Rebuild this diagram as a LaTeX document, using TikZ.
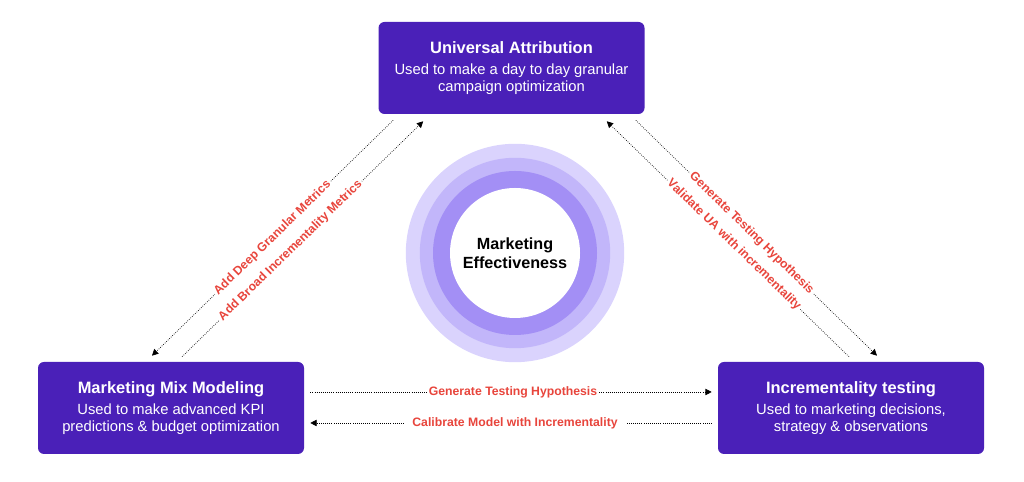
\documentclass[tikz,border=0pt]{standalone}
\usepackage{fontspec}
\setmainfont{Liberation Sans}
\usetikzlibrary{calc,arrows.meta}

\definecolor{boxviolet}{HTML}{4A20B8}
\definecolor{ringa}{HTML}{DAD3FD}
\definecolor{ringb}{HTML}{C2B6FA}
\definecolor{ringc}{HTML}{A38FF5}
\definecolor{labelred}{HTML}{E8453C}

\tikzset{
  method/.style={fill=boxviolet, rounded corners=0.15cm, minimum width=6.65cm, minimum height=2.3cm, text=white, align=center, inner sep=0pt, font=\fontsize{10.5}{12}\selectfont},
  link/.style={densely dotted, line width=0.5pt, -{Triangle[length=4.5pt,width=4.5pt]}},
  linklabel/.style={font=\bfseries\fontsize{8.7}{9}\selectfont, text=labelred, fill=white, inner sep=1.2pt, sloped},
}
\newcommand{\boxtitle}[1]{\textbf{\fontsize{11.7}{13}\selectfont #1}}

\begin{document}
\begin{tikzpicture}
        \useasboundingbox (0, 0) rectangle (25.6, 12.05);

        % the three methods
        \node[method] (ua) at (12.7875, 10.35) {\boxtitle{Universal Attribution}\\[3pt]
            Used to make a day to day granular\\campaign optimization};
        \node[method] (mmm) at (4.275, 1.85) {\boxtitle{Marketing Mix Modeling}\\[3pt]
            Used to make advanced KPI\\predictions \& budget optimization};
        \node[method] (it) at (21.275, 1.85) {\boxtitle{Incrementality testing}\\[3pt]
            Used to marketing decisions,\\strategy \& observations};

        % centre rings
        \fill[ringa] (12.875, 5.725) circle (2.73);
        \fill[ringb] (12.875, 5.725) circle (2.38);
        \fill[ringc] (12.875, 5.725) circle (2.05);
        \fill[white] (12.875, 5.725) circle (1.625);
        \node[align=center, font=\bfseries\fontsize{11.5}{13.5}\selectfont] (effect) at (12.875, 5.725) {Marketing\\Effectiveness};

        % UA <-> MMM
        \draw[link] ($(ua.south west)+(0.375,-0.15)$) -- node[linklabel, pos=0.5] {Add Deep Granular Metrics} ($(mmm.north)+(-0.475,0.15)$);
        \draw[link] ($(mmm.north)+(0.275,0.125)$) -- node[linklabel, pos=0.45] {Add Broad Incrementality Metrics} ($(ua.south west)+(1.125,-0.175)$);

        % UA <-> IT
        \draw[link] ($(ua.south east)+(-0.225,-0.15)$) -- node[linklabel, pos=0.48] {Generate Testing Hypothesis} ($(it.north)+(0.65,0.15)$);
        \draw[link] ($(it.north)+(-0.05,0.125)$) -- node[linklabel, pos=0.475] {Validate UA with incrementality} ($(ua.south east)+(-0.95,-0.175)$);

        % MMM <-> IT
        \draw[link] ($(mmm.east)+(0.15,0.4)$) -- node[linklabel, pos=0.505] {Generate Testing Hypothesis} ($(it.west)+(-0.15,0.4)$);
        \draw[link] ($(it.west)+(-0.15,-0.375)$) -- node[linklabel, pos=0.49, inner xsep=6pt] {Calibrate Model with Incrementality} ($(mmm.east)+(0.15,-0.375)$);
\end{tikzpicture}
\end{document}
